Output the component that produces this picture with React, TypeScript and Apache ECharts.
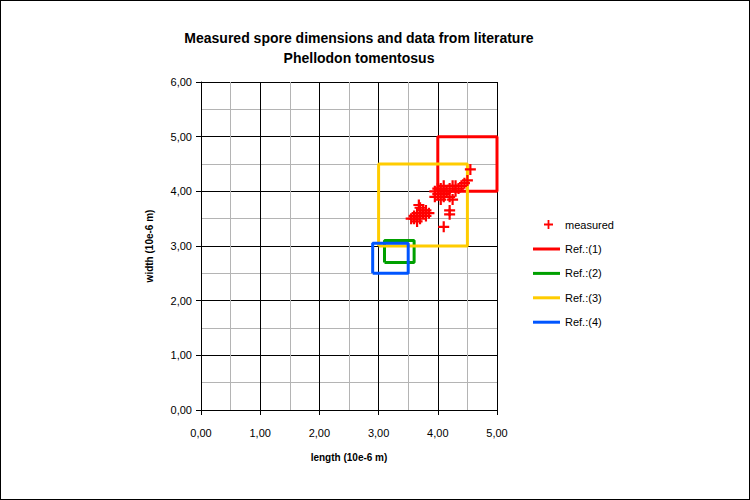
import React, { useEffect, useRef } from "react";
import * as echarts from "echarts";

const titleLines = ["Measured spore dimensions and data from literature", "Phellodon tomentosus"];
const xName = "length (10e-6 m)";
const yName = "width (10e-6 m)";

// measured spores: [length, width]
const measured: number[][] = [
  [3.95, 4.0], [4.0, 3.95], [4.05, 4.05], [4.1, 4.1], [4.0, 4.05], [3.95, 3.9],
  [4.1, 3.95], [4.15, 4.0], [4.2, 4.05], [4.25, 4.1], [4.3, 4.0], [4.35, 4.05],
  [4.2, 3.9], [4.25, 3.85], [4.3, 4.1], [4.4, 4.1], [4.45, 4.15], [4.05, 3.85],
  [4.1, 3.9], [4.5, 4.2], [4.55, 4.4], [4.2, 3.65], [4.2, 3.58], [4.1, 3.35],
  [3.55, 3.5], [3.6, 3.55], [3.65, 3.6], [3.7, 3.5], [3.7, 3.7], [3.75, 3.6],
  [3.8, 3.55], [3.65, 3.45], [3.6, 3.5], [3.75, 3.65], [3.85, 3.6], [3.7, 3.6],
  [3.8, 3.65], [3.68, 3.75],
];

// literature ranges: [lengthMin, lengthMax, widthMin, widthMax]
const refNames = ["Ref.:(1)", "Ref.:(2)", "Ref.:(3)", "Ref.:(4)"];
const refRanges: number[][] = [
  [4.0, 5.0, 4.0, 5.0],
  [3.1, 3.6, 2.7, 3.1],
  [3.0, 4.5, 3.0, 4.5],
  [2.9, 3.5, 2.5, 3.05],
];
const refColors = ["#FF0000", "#00A000", "#FFCC00", "#0055FF"];

const xMin = 0, xMax = 5, yMin = 0, yMax = 6;

const fmt = (v: number) => v.toFixed(2).replace(".", ",");
const FONT = "Liberation Sans";
const CROSS = "path://M4,0H6V4H10V6H6V10H4V6H0V4H4Z";

export default function App() {
  const ref = useRef<HTMLDivElement>(null);
  useEffect(() => {
    if (!ref.current) return;
    const chart = echarts.init(ref.current, undefined, { renderer: "svg" });
    const rectSeries = refRanges.map((r, i) => ({
      name: refNames[i],
      type: "line",
      data: [
        [r[0], r[2]], [r[1], r[2]], [r[1], r[3]], [r[0], r[3]], [r[0], r[2]],
      ],
      showSymbol: false,
      symbol: "none",
      lineStyle: { color: refColors[i], width: 3 },
      itemStyle: { color: refColors[i] },
      z: 3,
    }));
    chart.setOption({
      animation: false,
      backgroundColor: "#fff",
      textStyle: { fontFamily: FONT },
      title: {
        text: titleLines.join("\n"),
        left: 353,
        textAlign: "center",
        top: 22,
        textStyle: { fontFamily: FONT, fontWeight: "bold", fontSize: 14, lineHeight: 20, color: "#000" },
      },
      grid: { left: 200, right: 252, top: 81, bottom: 89, containLabel: false },
      legend: [
        {
          data: [{ name: "measured", icon: CROSS }],
          left: 538,
          top: 213,
          itemWidth: 9,
          itemHeight: 9,
          textStyle: { fontFamily: FONT, fontSize: 11, color: "#000", padding: [0, 0, 0, 7] },
        },
        {
          data: refNames.map((n) => ({ name: n, icon: "rect" })),
          orient: "vertical",
          left: 527,
          top: 237,
          itemWidth: 27,
          itemHeight: 3,
          itemGap: 12.4,
          textStyle: { fontFamily: FONT, fontSize: 11, color: "#000", lineHeight: 12 },
        },
      ],
      xAxis: {
        type: "value",
        min: xMin,
        max: xMax,
        interval: 1,
        name: xName,
        nameLocation: "middle",
        nameGap: 42,
        nameTextStyle: { fontFamily: FONT, fontWeight: "bold", fontSize: 10, color: "#000" },
        axisLine: { show: true, onZero: false, lineStyle: { color: "#000", width: 1 } },
        axisTick: { show: true, length: 5, inside: false, lineStyle: { color: "#000" } },
        axisLabel: { formatter: fmt, margin: 17, fontSize: 11, color: "#000", fontFamily: FONT },
        splitLine: { show: true, lineStyle: { color: "#000", width: 1 } },
        minorTick: { show: false, splitNumber: 2 },
        minorSplitLine: { show: true, lineStyle: { color: "#b4b4b4", width: 1 } },
      },
      yAxis: {
        type: "value",
        min: yMin,
        max: yMax,
        interval: 1,
        name: yName,
        nameLocation: "middle",
        nameGap: 47,
        nameTextStyle: { fontFamily: FONT, fontWeight: "bold", fontSize: 10, color: "#000" },
        axisLine: { show: true, onZero: false, lineStyle: { color: "#000", width: 1 } },
        axisTick: { show: true, length: 5, inside: false, lineStyle: { color: "#000" } },
        axisLabel: { formatter: fmt, margin: 9, fontSize: 11, color: "#000", fontFamily: FONT },
        splitLine: { show: true, lineStyle: { color: "#000", width: 1 } },
        minorTick: { show: false, splitNumber: 2 },
        minorSplitLine: { show: true, lineStyle: { color: "#b4b4b4", width: 1 } },
      },
      series: [
        {
          name: "measured",
          type: "scatter",
          data: measured,
          symbol: CROSS,
          symbolSize: 11,
          itemStyle: { color: "#FF0000", opacity: 1 },
          z: 4,
        },
        ...rectSeries,
      ],
    });
    return () => chart.dispose();
  }, []);
  return (
    <div style={{ position: "absolute", left: 0, top: 0, width: 750, height: 500, boxSizing: "border-box", border: "1px solid #000" }}>
      <div ref={ref} style={{ width: 748, height: 498 }} />
    </div>
  );
}
